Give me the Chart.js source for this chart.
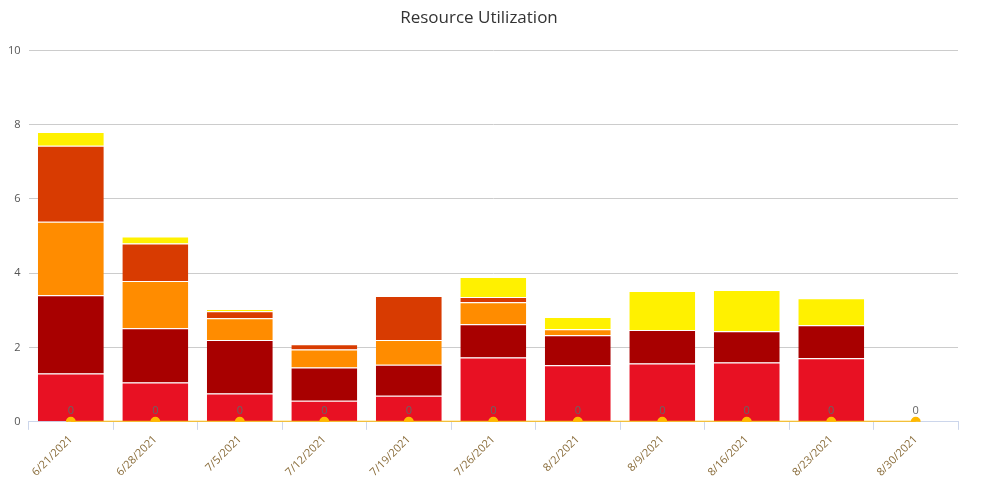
<!DOCTYPE html>
<html><head><meta charset="utf-8">
<script src="https://cdn.jsdelivr.net/npm/chart.js@4"></script>
<style>body{margin:0;background:#fff}#wrap{width:982px;height:485px}</style>
</head><body><div id="wrap"><canvas id="c"></canvas></div>
<script>
const weeks = ['6/21/2021','6/28/2021','7/5/2021','7/12/2021','7/19/2021','7/26/2021','8/2/2021','8/9/2021','8/16/2021','8/23/2021','8/30/2021'];
const redVals     = [1.30, 1.06, 0.76, 0.57, 0.70, 1.73, 1.52, 1.57, 1.60, 1.71, 0];
const darkRedVals = [2.11, 1.46, 1.44, 0.89, 0.84, 0.90, 0.81, 0.90, 0.84, 0.89, 0];
const orangeVals  = [1.98, 1.27, 0.59, 0.49, 0.66, 0.59, 0.16, 0, 0, 0, 0];
const rustVals    = [2.04, 1.01, 0.19, 0.14, 1.19, 0.14, 0, 0, 0, 0, 0];
const yellowVals  = [0.37, 0.19, 0.06, 0, 0, 0.54, 0.33, 1.05, 1.11, 0.73, 0];
const zeroLine    = [0, 0, 0, 0, 0, 0, 0, 0, 0, 0, 0];

const bar = (data, color) => ({type:'bar', data, backgroundColor: color, borderColor:'#fff', borderWidth:{top:1}, borderSkipped:false, stack:'s', barPercentage:0.78, categoryPercentage:1});

const zeroLabels = {
  id:'zeroLabels',
  afterDatasetsDraw(chart){
    const ctx = chart.ctx, meta = chart.getDatasetMeta(5);
    ctx.save();
    ctx.font = '11px "Open Sans"';
    ctx.textAlign = 'center';
    ctx.fillStyle = '#666';
    meta.data.forEach((p, i) => ctx.fillText(String(zeroLine[i]), p.x, p.y - 8));
    ctx.restore();
  }
};

new Chart(document.getElementById('c'), {
  data: {
    labels: weeks,
    datasets: [
      bar(redVals, '#e81123'),
      bar(darkRedVals, '#a80000'),
      bar(orangeVals, '#ff8c00'),
      bar(rustVals, '#d83b01'),
      bar(yellowVals, '#fff100'),
      {type:'line', data: zeroLine, borderColor:'#ffb900', backgroundColor:'#ffb900', borderWidth:2, pointRadius:4, order:-1}
    ]
  },
  options: {
    responsive:true, maintainAspectRatio:false, animation:false,
    layout:{padding:{left:0, right:24, top:6, bottom:3}},
    plugins:{
      legend:{display:false}, tooltip:{enabled:false},
      title:{display:true, text:'Resource Utilization', color:'#333', font:{family:'Open Sans', size:17, weight:'normal'}, padding:{top:2, bottom:22}}
    },
    scales:{
      x:{stacked:true, grid:{display:true, drawOnChartArea:false, drawTicks:true, tickLength:8, color:'#ccd6eb', offset:true}, border:{color:'#ccd6eb'},
         ticks:{color:'#8a6d3b', maxRotation:45, minRotation:45, font:{family:'Open Sans', size:11}}},
      y:{stacked:true, min:0, max:10, ticks:{stepSize:2, color:'#555', font:{family:'Open Sans', size:11}, padding:8},
         grid:{color:'#cccccc', drawTicks:false}, border:{display:false}}
    }
  },
  plugins:[zeroLabels]
});
</script></body></html>
